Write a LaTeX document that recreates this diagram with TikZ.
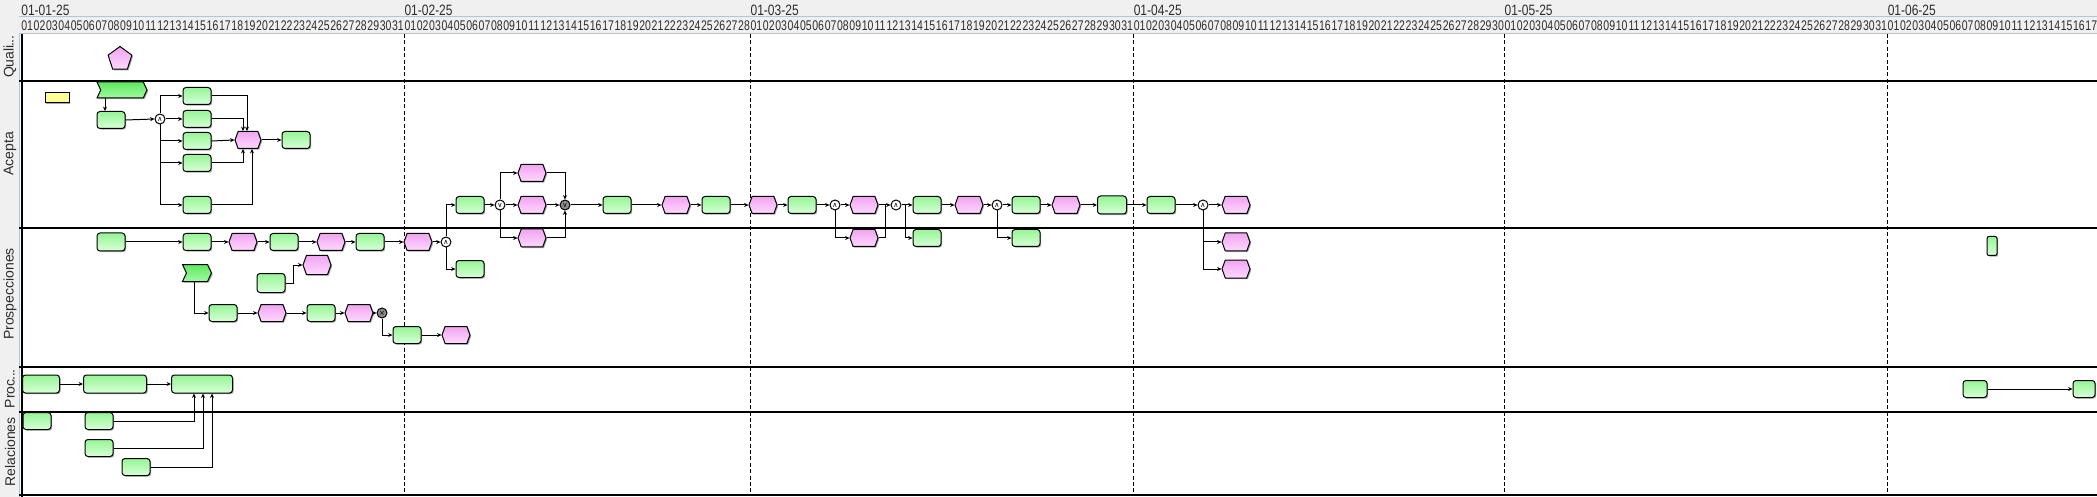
\documentclass[tikz,border=0pt]{standalone}
\usepackage{fontspec}
\setmainfont{Liberation Sans}
\newfontfamily\symf{DejaVu Sans}
\usetikzlibrary{shapes.misc,shapes.symbols,shapes.geometric,arrows.meta,shadows,calc}
\definecolor{hdr}{RGB}{240,240,240}
\definecolor{lblue}{RGB}{175,198,225}
\definecolor{gA}{RGB}{150,245,150}
\definecolor{gB}{RGB}{215,255,215}
\definecolor{fA}{RGB}{95,232,95}
\definecolor{fB}{RGB}{160,250,160}
\definecolor{pA}{RGB}{240,165,240}
\definecolor{pB}{RGB}{255,215,255}
\definecolor{gwgray}{RGB}{140,140,140}
\definecolor{yel}{RGB}{255,255,150}
\definecolor{txt}{RGB}{45,45,45}
\tikzset{
 shd/.style={drop shadow={shadow xshift=0.6pt,shadow yshift=-0.6pt,fill=black,opacity=0.35}},
 act/.style={draw, line width=0.5pt, rounded corners=1.5pt, top color=gA, bottom color=gB, minimum width=14pt, minimum height=8.5pt, inner sep=0pt, shd},
 evt/.style={draw, line width=0.5pt, signal, signal to=west and east, signal pointer angle=140, top color=pA, bottom color=pB, minimum width=14pt, minimum height=8.5pt, inner sep=0pt, shd},
 flagbox/.style={draw, line width=0.5pt, signal, signal from=west, signal to=east, signal pointer angle=130, top color=fA, bottom color=fB, minimum height=8pt, inner sep=0pt, shd},
 gw/.style={draw, circle, line width=0.5pt, fill=white, minimum size=5pt, inner sep=0pt, font=\symf\fontsize{3.5}{3.5}\selectfont},
 gwg/.style={gw, fill=gwgray},
 arr/.style={line width=0.5pt, -{Stealth[length=2.2pt,width=2pt]}},
 ln/.style={line width=0.5pt},
 monthlbl/.style={anchor=west, inner sep=0pt, text=txt, font=\fontsize{7.5}{7.5}\selectfont},
 daylbl/.style={inner sep=0pt, text=txt, font=\fontsize{7}{7}\selectfont},
 lanelbl/.style={rotate=90, inner sep=0pt, text=txt, font=\fontsize{7}{7}\selectfont},
 mline/.style={line width=0.5pt, dash pattern=on 2pt off 1.2pt},
}
\begin{document}
\begin{tikzpicture}[x=0.5pt,y=-0.5pt]
\useasboundingbox (0,0) rectangle (2097,497);
\clip (0,0) rectangle (2097,497);
\fill[white] (0,0) rectangle (2097,497);
\fill[hdr] (0,0) rectangle (2097,34);
\fill[hdr] (0,0) rectangle (19,497);
\draw[lblue, line width=0.5pt] (19,34) -- (19,497);
\draw[lblue, line width=0.5pt] (19,17) -- (2097,17);
\draw[black!25, line width=0.5pt] (19,34) -- (2097,34);
% lanes
\foreach \yy in {81,228,367,412,495} \draw[line width=0.6pt] (19,\yy) -- (2097,\yy);
\draw[line width=0.6pt] (22,34) -- (22,497);
% month lines
\foreach \xx in {404.2,750.2,1133.4,1504.2,1887.4} \draw[mline] (\xx,34) -- (\xx,495);
% header labels
\foreach \off/\lab in {0/01-01-25,31/01-02-25,59/01-03-25,90/01-04-25,120/01-05-25,151/01-06-25}
  \node[monthlbl] (m\off) at ({21+\off*12.36},10) {\scalebox{0.8}[1]{\lab}};
\foreach \off/\n in {0/31,31/28,59/31,90/30,120/31,151/20}{
  \foreach \d in {1,...,\n}{
    \node[daylbl] (d\off-\d) at ({21+(\off+\d-0.5)*12.36},26) {\scalebox{0.75}[1]{\ifnum\d<10 0\fi\d}};
  }
}
% lane labels
\node[lanelbl] (lq) at (10,57) {Quali\kern-0.4pt.\kern-0.4pt.\kern-0.4pt.};
\node[lanelbl] (la) at (10,154) {Acepta};
\node[lanelbl] (lp) at (10,294) {Prospecciones};
\node[lanelbl] (lr) at (10,389) {Proc\kern-0.4pt.\kern-0.4pt.\kern-0.4pt.};
\node[lanelbl] (ll) at (10,452) {Relaciones};

% ===== Quali
\node[regular polygon, regular polygon sides=5, draw, line width=0.5pt, top color=pA, bottom color=pB, minimum size=12.5pt, inner sep=0pt, shd] (qp) at (120,59) {};

% ===== Acepta left
\node[draw, line width=0.5pt, fill=yel, minimum width=12pt, minimum height=5pt, inner sep=0pt, shd] (y1) at (57,98) {};
\node[flagbox, minimum width=25pt] (fa) at (122,90) {};
\node[act] (a1) at (111,120) {};
\coordinate (xa) at (105,0);
\draw[arr] (fa.south -| xa) -- (a1.north -| xa);
\node[gw] (g1) at (160,119) {∧};
\draw[arr] (a1.east) -- (g1.west);
\node[act] (b1) at (197,96) {};
\node[act] (b2) at (197,119) {};
\node[act] (b3) at (197,141) {};
\node[act] (b4) at (197,163) {};
\node[act] (b5) at (197,205) {};
\draw[arr] (g1.north) |- (b1.west);
\draw[arr] (g1.east) -- (b2.west);
\draw[arr] (g1.south) |- (b3.west);
\draw[arr] (g1.south) |- (b4.west);
\draw[arr] (g1.south) |- (b5.west);
\node[evt, minimum width=13pt] (ea) at (248,140) {};
\draw[arr] (b1.east) -| ($(ea.north)+(-1,0)$);
\draw[arr] (b2.east) -| ($(ea.north)+(-5,0)$);
\draw[arr] (b3.east) -- (ea.west);
\draw[arr] (b4.east) -| ($(ea.south)+(-5,0)$);
\draw[arr] (b5.east) -| ($(ea.south)+(4,0)$);
\node[act] (a7) at (296,140) {};
\draw[arr] (ea.east) -- (a7.west);

% ===== Prospecciones row 1
\node[act, minimum height=9pt] (p1) at (111,242) {};
\node[act] (p2) at (197,242) {};
\node[evt] (p3) at (243,242) {};
\node[act] (p4) at (284,242) {};
\node[evt] (p5) at (331,242) {};
\node[act] (p6) at (370,242) {};
\node[evt] (p7) at (418,242) {};
\node[gw] (g2) at (446,242) {∧};
\draw[arr] (p1.east) -- (p2.west);
\draw[arr] (p2.east) -- (p3.west);
\draw[arr] (p3.east) -- (p4.west);
\draw[arr] (p4.east) -- (p5.west);
\draw[arr] (p5.east) -- (p6.west);
\draw[arr] (p6.east) -- (p7.west);
\draw[arr] (p7.east) -- (g2.west);
\node[act] (a8) at (470,205) {};
\node[act] (p8) at (470,269) {};
\draw[arr] (g2.north) |- (a8.west);
\draw[arr] (g2.south) |- (p8.west);

% row 2
\node[flagbox, minimum width=14.5pt, minimum height=8.5pt] (fp) at (197,273) {};
\node[act] (q1) at (223,313) {};
\coordinate (xf) at (194,0);
\draw[arr] (fp.south -| xf) |- (q1.west);
\node[evt] (q2) at (272,313) {};
\node[act] (q3) at (321,313) {};
\node[evt] (q4) at (359,313) {};
\node[gwg] (g3) at (382,313) {×};
\draw[arr] (q1.east) -- (q2.west);
\draw[arr] (q2.east) -- (q3.west);
\draw[arr] (q3.east) -- (q4.west);
\draw[arr] (q4.east) -- (g3.west);
\node[act] (q5) at (407,335) {};
\node[evt] (q6) at (456,335) {};
\draw[arr] (g3.south) |- (q5.west);
\draw[arr] (q5.east) -- (q6.west);
\node[act, minimum height=9.5pt] (r1) at (271,283) {};
\node[evt, minimum height=9.5pt] (r2) at (317,265) {};
\draw[arr] (r1.east) -- ++(8,0) |- (r2.west);

% ===== Acepta main row
\node[gw] (g4) at (500,205) {∨};
\draw[arr] (a8.east) -- (g4.west);
\node[evt] (e1) at (532,173) {};
\node[evt] (e2) at (532,205) {};
\node[evt, minimum height=9pt] (e3) at (532,238) {};
\draw[arr] (g4.north) |- (e1.west);
\draw[arr] (g4.east) -- (e2.west);
\draw[arr] (g4.south) |- (e3.west);
\node[gwg] (g5) at (565,205) {∨};
\draw[arr] (e1.east) -| (g5.north);
\draw[arr] (e2.east) -- (g5.west);
\draw[arr] (e3.east) -| (g5.south);
\node[act] (a9) at (617,205) {};
\node[evt] (e4) at (676,205) {};
\node[act] (a10) at (716,205) {};
\node[evt] (e5) at (763,205) {};
\node[act] (a11) at (802,205) {};
\node[gw] (g6) at (835,205) {∧};
\node[evt] (e6) at (864,205) {};
\node[evt] (e7) at (864,238) {};
\node[gw] (g7) at (896,205) {∧};
\node[act] (a12) at (927,205) {};
\node[act] (a13) at (927,238) {};
\node[evt] (e8) at (969,205) {};
\node[gw] (g8) at (997,205) {∧};
\node[act] (a14) at (1026,205) {};
\node[act] (a15) at (1026,238) {};
\node[evt] (e9) at (1066,205) {};
\node[act, minimum width=14.5pt, minimum height=9pt] (a16) at (1112,205) {};
\node[act] (a17) at (1161,205) {};
\node[gw] (g9) at (1203,205) {∧};
\node[evt] (e10) at (1236,205) {};
\node[evt, minimum height=9pt] (e11) at (1236,242) {};
\node[evt, minimum height=9pt] (e12) at (1236,269) {};
\draw[arr] (g5.east) -- (a9.west);
\draw[arr] (a9.east) -- (e4.west);
\draw[arr] (e4.east) -- (a10.west);
\draw[arr] (a10.east) -- (e5.west);
\draw[arr] (e5.east) -- (a11.west);
\draw[arr] (a11.east) -- (g6.west);
\draw[arr] (g6.east) -- (e6.west);
\draw[arr] (g6.south) |- (e7.west);
\draw[arr] (e6.east) -- (g7.west);
\draw[ln] (e7.east) -| ($(g7.west)+(-5,0)$);
\draw[arr] (g7.east) -- (a12.west);
\draw[arr] ($(g7.east)+(4,0)$) |- (a13.west);
\draw[arr] (a12.east) -- (e8.west);
\draw[arr] (e8.east) -- (g8.west);
\draw[arr] (g8.east) -- (a14.west);
\draw[arr] (g8.south) |- (a15.west);
\draw[arr] (a14.east) -- (e9.west);
\draw[arr] (e9.east) -- (a16.west);
\draw[arr] (a16.east) -- (a17.west);
\draw[arr] (a17.east) -- (g9.west);
\draw[arr] (g9.east) -- (e10.west);
\draw[arr] (g9.south) |- (e11.west);
\draw[arr] (g9.south) |- (e12.west);

% right side small box
\node[act, minimum width=5pt, minimum height=9.5pt, rounded corners=1pt] (tg) at (1992,246) {};

% ===== Proc
\node[act, minimum width=18.5pt, minimum height=9pt] (pr1) at (41,384) {};
\node[act, minimum width=31.5pt, minimum height=9pt] (pr2) at (115,384) {};
\node[act, minimum width=30.5pt, minimum height=9pt] (pr3) at (202,384) {};
\draw[arr] (pr1.east) -- (pr2.west);
\draw[arr] (pr2.east) -- (pr3.west);
\node[act, minimum width=12pt] (pr4) at (1975,389) {};
\node[act, minimum width=11pt] (pr5) at (2084,389) {};
\draw[arr] (pr4.east) -- (pr5.west);

% ===== Relaciones
\node[act] (s1) at (37,421) {};
\node[act] (s2) at (99,421) {};
\node[act] (s3) at (99,448) {};
\node[act] (s4) at (136,467) {};
\draw[arr] (s2.east) -| ($(pr3.south)+(-8,0)$);
\draw[arr] (s3.east) -| ($(pr3.south)+(1,0)$);
\draw[arr] (s4.east) -| ($(pr3.south)+(10,0)$);
\end{tikzpicture}
\end{document}
